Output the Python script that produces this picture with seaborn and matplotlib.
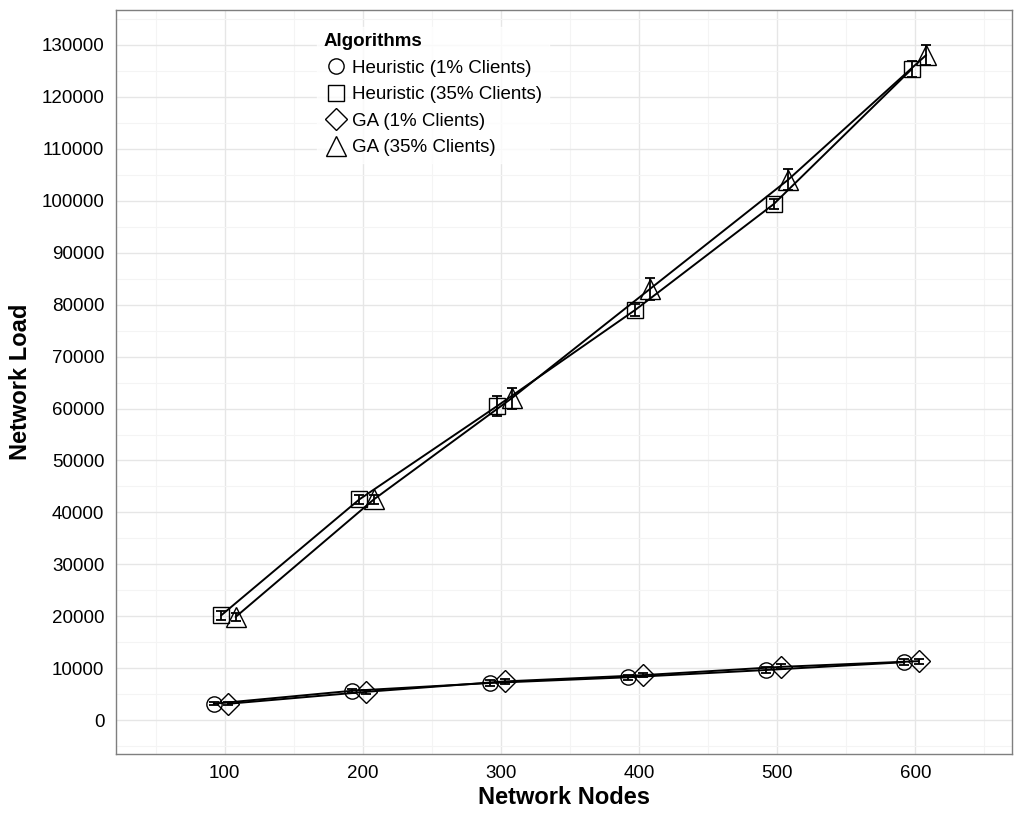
import numpy as np
import pandas as pd
import matplotlib
matplotlib.use('Agg')
import matplotlib.pyplot as plt
from matplotlib.lines import Line2D
from matplotlib.ticker import MultipleLocator
import seaborn as sns

sns.set_theme(style='white')
plt.rcParams['font.family'] = ['Liberation Sans', 'DejaVu Sans']
plt.rcParams['text.color'] = 'black'
plt.rcParams['axes.labelcolor'] = 'black'

# data
nodes = [100, 200, 300, 400, 500, 600]
series = ['Heuristic (1% Clients)', 'Heuristic (35% Clients)', 'GA (1% Clients)', 'GA (35% Clients)']
heur_1 = [3200, 5700, 7200, 8300, 9700, 11200]
heur_1_err = [300, 400, 500, 500, 600, 600]
heur_35 = [20200, 42500, 60500, 79000, 99300, 125300]
heur_35_err = [800, 900, 2000, 1200, 1000, 1500]
ga_1 = [3200, 5500, 7500, 8700, 10300, 11400]
ga_1_err = [300, 400, 400, 400, 500, 500]
ga_35 = [19900, 42500, 62000, 83000, 104000, 128000]
ga_35_err = [700, 800, 2000, 2200, 2000, 2000]

# styling
dodge = [-7.9, -2.6, 2.6, 7.9]
markers = ['o', 's', 'D', '^']
msizes = [11, 11, 11, 15]

rows = []
for name, vals, errs, off in zip(series, [heur_1, heur_35, ga_1, ga_35],
                                 [heur_1_err, heur_35_err, ga_1_err, ga_35_err], dodge):
    for n, v, e in zip(nodes, vals, errs):
        rows.append({'Algorithm': name, 'Nodes': n, 'x': n + off, 'Load': v, 'err': e})
df = pd.DataFrame(rows)

fig, ax = plt.subplots(figsize=(10.14, 8.18), dpi=100)
plt.subplots_adjust(left=0.114, right=0.998, top=0.988, bottom=0.078)

for name, m, ms in zip(series, markers, msizes):
    sub = df[df['Algorithm'] == name]
    sns.lineplot(data=sub, x='x', y='Load', color='black', linewidth=1.4, ax=ax,
                 marker=m, markersize=ms, markerfacecolor='none', markeredgecolor='black',
                 markeredgewidth=1.0, zorder=3)
    ax.errorbar(sub['x'], sub['Load'], yerr=sub['err'], fmt='none', ecolor='black',
                elinewidth=1.3, capsize=3.5, capthick=1.3, zorder=4)

ax.set_xlim(21, 670)
ax.set_ylim(-6500, 136700)
ax.set_xticks(nodes)
ax.xaxis.set_minor_locator(MultipleLocator(50))
ax.yaxis.set_minor_locator(MultipleLocator(5000))
ax.set_yticks(np.arange(0, 130001, 10000))
ax.set_yticklabels([str(v) for v in range(0, 130001, 10000)])

ax.grid(which='major', color='#e6e6e6', linewidth=1.0)
ax.grid(which='minor', color='#f4f4f4', linewidth=0.8)
ax.set_axisbelow(True)
for s in ax.spines.values():
    s.set_color('#7f7f7f')
    s.set_linewidth(1.0)
ax.tick_params(axis='both', which='major', direction='out', length=5, width=1,
               color='#333333', labelsize=13.5, labelcolor='black', pad=3)
ax.tick_params(which='minor', length=0)

ax.set_xlabel('Network Nodes', fontsize=17, fontweight='bold', labelpad=3, color='black')
ax.set_ylabel('Network Load', fontsize=17, fontweight='bold', labelpad=7, color='black')

handles = [Line2D([], [], linestyle='none', marker=m, markersize=ms, markerfacecolor='none',
                  markeredgecolor='black', markeredgewidth=1.0)
           for m, ms in zip(markers, msizes)]
leg = ax.legend(handles, series, title='Algorithms', loc='upper left',
                bbox_to_anchor=(0.214, 0.99), frameon=True, fontsize=13.5,
                title_fontsize=13.5, handlelength=1.3, handletextpad=0.25,
                labelspacing=0.5, borderpad=0.35)
leg.get_frame().set_facecolor('white')
leg.get_frame().set_edgecolor('white')
leg.get_frame().set_boxstyle('square', pad=0)
leg.get_title().set_fontweight('bold')
leg.get_title().set_color('black')
for t in leg.get_texts():
    t.set_color('black')
leg._legend_box.align = 'left'

fig.savefig('out.png', dpi=100)
